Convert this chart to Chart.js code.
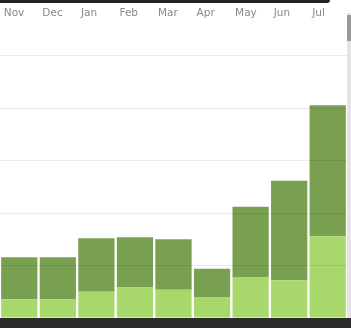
<!DOCTYPE html>
<html>
<head>
<meta charset="utf-8">
<script src="https://cdn.jsdelivr.net/npm/chart.js@4"></script>
<style>
  html, body { margin: 0; padding: 0; background: #fff; }
  body { width: 351px; height: 328px; position: relative; overflow: hidden; }
  #wrap { position: absolute; left: 0; top: 0; width: 347px; height: 318px; }
  #topbar { position: absolute; left: 0; top: 0; width: 330px; height: 3px; background: #222; border-bottom-right-radius: 3px; }
  #bottombar { position: absolute; left: 0; top: 318px; width: 351px; height: 10px; background: #2b2b2b; }
  #scroll { position: absolute; left: 347px; top: 13px; width: 4px; height: 305px; background: #e4e4e4; }
  #thumb { position: absolute; left: 347px; top: 15px; width: 4px; height: 26px; background: #9a9a9a; }
</style>
</head>
<body>
<div id="wrap"><canvas id="chart"></canvas></div>
<div id="topbar"></div>
<div id="bottombar"></div>
<div id="scroll"></div>
<div id="thumb"></div>
<script>
const months = ['Nov', 'Dec', 'Jan', 'Feb', 'Mar', 'Apr', 'May', 'Jun', 'Jul'];
const lightValues = [18, 18, 25, 29, 27, 20, 39, 36, 78];
const darkValues = [40, 40, 51, 48, 48, 27, 67, 95, 125];

const ctx = document.getElementById('chart').getContext('2d');
const chart = new Chart(ctx, {
  type: 'bar',
  data: {
    labels: months,
    datasets: [
      {
        label: 'light',
        data: lightValues,
        backgroundColor: '#a8d86b',
        barPercentage: 0.94,
        categoryPercentage: 1
      },
      {
        label: 'dark',
        data: darkValues,
        backgroundColor: '#799f51',
        barPercentage: 0.94,
        categoryPercentage: 1
      }
    ]
  },
  options: {
    animation: false,
    responsive: true,
    maintainAspectRatio: false,
    layout: { padding: { top: 3, left: 0, right: 0, bottom: 0 } },
    plugins: {
      legend: { display: false },
      tooltip: { enabled: false }
    },
    scales: {
      x: {
        stacked: true,
        position: 'top',
        grid: { display: false, drawTicks: false },
        border: { display: false },
        ticks: {
          align: 'start',
          labelOffset: -15.5,
          padding: 4.4,
          color: '#888',
          font: { family: 'DejaVu Sans', size: 10.5 }
        }
      },
      y: {
        stacked: true,
        min: 0,
        max: 280,
        grid: {
          z: 1,
          drawTicks: false,
          color: (c) => (c.tick && c.tick.value % 50 === 0 && c.tick.value > 0) ? 'rgba(0,0,0,0.08)' : 'rgba(0,0,0,0)'
        },
        border: { display: false },
        ticks: { display: false, stepSize: 50 }
      }
    }
  }
});
</script>
</body>
</html>
